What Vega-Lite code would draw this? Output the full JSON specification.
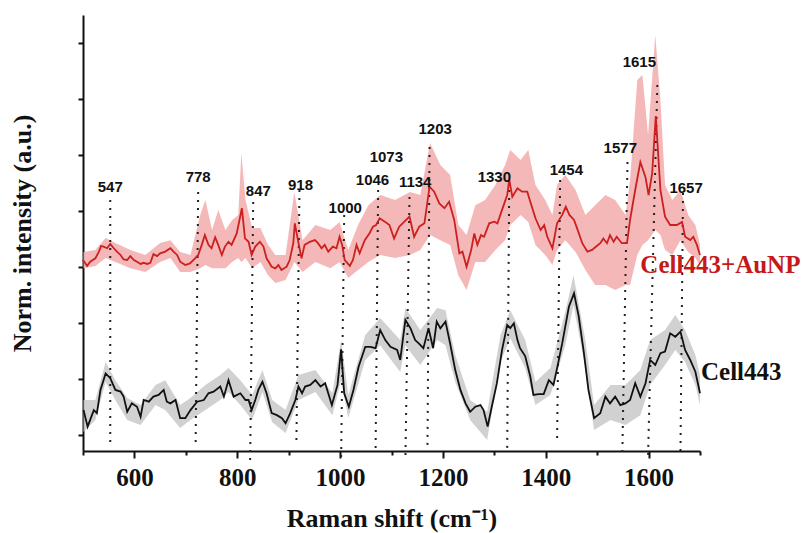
{
  "$schema": "https://vega.github.io/schema/vega-lite/v6.json",
  "width": 617,
  "height": 436,
  "autosize": {"type": "none"},
  "padding": {"left": 83, "top": 15, "right": 109, "bottom": 82},
  "background": "white",
  "config": {
    "view": {"stroke": null},
    "axis": {"grid": false}
  },
  "datasets": {
    "redLine": [
      {"shift":500,"intensity":6.25},{"shift":508,"intensity":6.04},{"shift":514,"intensity":6.19},{"shift":524,"intensity":6.31},{"shift":531,"intensity":6.55},{"shift":535,"intensity":6.75},{"shift":540,"intensity":6.73},{"shift":547,"intensity":6.67},{"shift":553,"intensity":6.82},{"shift":560,"intensity":6.67},{"shift":566,"intensity":6.55},{"shift":573,"intensity":6.43},{"shift":579,"intensity":6.27},{"shift":586,"intensity":6.25},{"shift":592,"intensity":6.39},{"shift":599,"intensity":6.25},{"shift":605,"intensity":6.19},{"shift":612,"intensity":6.11},{"shift":618,"intensity":6.15},{"shift":625,"intensity":6.11},{"shift":631,"intensity":6.15},{"shift":637,"intensity":6.46},{"shift":644,"intensity":6.39},{"shift":650,"intensity":6.49},{"shift":660,"intensity":6.55},{"shift":670,"intensity":6.67},{"shift":676,"intensity":6.55},{"shift":683,"intensity":6.43},{"shift":689,"intensity":6.19},{"shift":699,"intensity":6.07},{"shift":708,"intensity":6.13},{"shift":718,"intensity":6.31},{"shift":724,"intensity":6.43},{"shift":731,"intensity":6.79},{"shift":737,"intensity":7.14},{"shift":744,"intensity":6.79},{"shift":750,"intensity":6.67},{"shift":757,"intensity":7.06},{"shift":763,"intensity":6.79},{"shift":770,"intensity":6.43},{"shift":776,"intensity":6.73},{"shift":783,"intensity":6.9},{"shift":789,"intensity":6.79},{"shift":799,"intensity":7.2},{"shift":809,"intensity":8.1},{"shift":815,"intensity":7.02},{"shift":822,"intensity":6.9},{"shift":828,"intensity":6.43},{"shift":835,"intensity":6.73},{"shift":844,"intensity":6.9},{"shift":851,"intensity":6.73},{"shift":857,"intensity":6.31},{"shift":867,"intensity":6.01},{"shift":874,"intensity":5.95},{"shift":880,"intensity":6.07},{"shift":886,"intensity":5.89},{"shift":896,"intensity":6.01},{"shift":902,"intensity":6.25},{"shift":909,"intensity":6.85},{"shift":912,"intensity":7.56},{"shift":918,"intensity":6.96},{"shift":925,"intensity":6.31},{"shift":931,"intensity":6.79},{"shift":941,"intensity":6.9},{"shift":951,"intensity":6.96},{"shift":957,"intensity":6.85},{"shift":964,"intensity":6.67},{"shift":970,"intensity":6.79},{"shift":977,"intensity":6.55},{"shift":986,"intensity":6.73},{"shift":993,"intensity":6.67},{"shift":999,"intensity":7.08},{"shift":1004,"intensity":6.79},{"shift":1009,"intensity":6.25},{"shift":1019,"intensity":6.04},{"shift":1025,"intensity":6.25},{"shift":1032,"intensity":6.79},{"shift":1038,"intensity":6.49},{"shift":1048,"intensity":6.96},{"shift":1057,"intensity":7.2},{"shift":1064,"intensity":7.44},{"shift":1070,"intensity":7.5},{"shift":1077,"intensity":7.74},{"shift":1087,"intensity":7.62},{"shift":1096,"intensity":7.5},{"shift":1105,"intensity":7.02},{"shift":1115,"intensity":7.44},{"shift":1125,"intensity":7.62},{"shift":1135,"intensity":7.8},{"shift":1144,"intensity":7.08},{"shift":1154,"intensity":7.44},{"shift":1164,"intensity":7.56},{"shift":1174,"intensity":8.87},{"shift":1183,"intensity":8.69},{"shift":1193,"intensity":8.27},{"shift":1203,"intensity":8.1},{"shift":1212,"intensity":8.33},{"shift":1222,"intensity":7.68},{"shift":1232,"intensity":6.49},{"shift":1238,"intensity":6.55},{"shift":1246,"intensity":6.01},{"shift":1255,"intensity":6.61},{"shift":1261,"intensity":7.2},{"shift":1267,"intensity":6.79},{"shift":1274,"intensity":7.14},{"shift":1280,"intensity":7.08},{"shift":1290,"intensity":7.56},{"shift":1300,"intensity":7.62},{"shift":1306,"intensity":7.56},{"shift":1315,"intensity":8.04},{"shift":1325,"intensity":8.57},{"shift":1329,"intensity":9.11},{"shift":1335,"intensity":8.51},{"shift":1345,"intensity":8.81},{"shift":1354,"intensity":8.69},{"shift":1364,"intensity":8.69},{"shift":1371,"intensity":8.27},{"shift":1380,"intensity":7.74},{"shift":1390,"intensity":7.32},{"shift":1397,"intensity":7.5},{"shift":1403,"intensity":7.08},{"shift":1413,"intensity":6.67},{"shift":1422,"intensity":7.56},{"shift":1432,"intensity":7.86},{"shift":1439,"intensity":8.15},{"shift":1446,"intensity":7.86},{"shift":1455,"intensity":7.68},{"shift":1461,"intensity":7.38},{"shift":1471,"intensity":6.85},{"shift":1481,"intensity":6.55},{"shift":1490,"intensity":6.61},{"shift":1498,"intensity":6.73},{"shift":1506,"intensity":6.85},{"shift":1512,"intensity":7.02},{"shift":1519,"intensity":6.85},{"shift":1525,"intensity":7.14},{"shift":1532,"intensity":6.9},{"shift":1538,"intensity":7.08},{"shift":1548,"intensity":6.85},{"shift":1558,"intensity":6.85},{"shift":1564,"intensity":7.68},{"shift":1574,"intensity":8.75},{"shift":1584,"intensity":9.75},{"shift":1594,"intensity":9.21},{"shift":1600,"intensity":8.57},{"shift":1607,"intensity":9.35},{"shift":1614,"intensity":11.39},{"shift":1623,"intensity":8.75},{"shift":1632,"intensity":7.8},{"shift":1642,"intensity":7.5},{"shift":1655,"intensity":7.5},{"shift":1665,"intensity":7.61},{"shift":1671,"intensity":7.08},{"shift":1681,"intensity":6.96},{"shift":1687,"intensity":7.08},{"shift":1694,"intensity":6.79},{"shift":1700,"intensity":6.43}
    ],
    "blackLine": [
      {"shift":501,"intensity":0.89},{"shift":509,"intensity":0.3},{"shift":521,"intensity":0.89},{"shift":527,"intensity":0.78},{"shift":534,"intensity":1.61},{"shift":544,"intensity":2.2},{"shift":553,"intensity":2.03},{"shift":563,"intensity":1.61},{"shift":573,"intensity":1.55},{"shift":579,"intensity":1.37},{"shift":586,"intensity":0.83},{"shift":595,"intensity":1.13},{"shift":605,"intensity":1.01},{"shift":612,"intensity":0.65},{"shift":618,"intensity":1.25},{"shift":628,"intensity":1.19},{"shift":637,"intensity":1.37},{"shift":647,"intensity":1.43},{"shift":657,"intensity":1.61},{"shift":663,"intensity":1.19},{"shift":670,"intensity":1.13},{"shift":680,"intensity":1.25},{"shift":689,"intensity":0.6},{"shift":699,"intensity":0.6},{"shift":709,"intensity":0.89},{"shift":722,"intensity":1.19},{"shift":735,"intensity":1.25},{"shift":744,"intensity":1.49},{"shift":754,"intensity":1.55},{"shift":767,"intensity":1.73},{"shift":774,"intensity":1.37},{"shift":783,"intensity":1.96},{"shift":793,"intensity":1.37},{"shift":806,"intensity":1.49},{"shift":816,"intensity":1.25},{"shift":822,"intensity":1.25},{"shift":828,"intensity":0.89},{"shift":835,"intensity":1.25},{"shift":841,"intensity":1.61},{"shift":849,"intensity":1.9},{"shift":857,"intensity":1.49},{"shift":867,"intensity":0.78},{"shift":877,"intensity":0.71},{"shift":887,"intensity":0.6},{"shift":894,"intensity":0.42},{"shift":903,"intensity":0.78},{"shift":913,"intensity":1.25},{"shift":919,"intensity":1.73},{"shift":926,"intensity":1.49},{"shift":932,"intensity":1.73},{"shift":942,"intensity":1.79},{"shift":952,"intensity":1.96},{"shift":962,"intensity":1.73},{"shift":971,"intensity":1.85},{"shift":984,"intensity":1.07},{"shift":995,"intensity":1.79},{"shift":1002,"intensity":3.06},{"shift":1008,"intensity":1.49},{"shift":1017,"intensity":1.01},{"shift":1026,"intensity":1.61},{"shift":1036,"intensity":2.44},{"shift":1049,"intensity":3.15},{"shift":1059,"intensity":3.15},{"shift":1069,"intensity":3.1},{"shift":1078,"intensity":3.75},{"shift":1088,"intensity":3.39},{"shift":1098,"intensity":3.15},{"shift":1111,"intensity":3.04},{"shift":1117,"intensity":2.68},{"shift":1127,"intensity":4.11},{"shift":1137,"intensity":3.81},{"shift":1146,"intensity":3.39},{"shift":1153,"intensity":3.27},{"shift":1162,"intensity":3.1},{"shift":1172,"intensity":3.81},{"shift":1181,"intensity":3.1},{"shift":1188,"intensity":4.05},{"shift":1195,"intensity":3.81},{"shift":1205,"intensity":4.05},{"shift":1214,"intensity":3.27},{"shift":1224,"intensity":2.32},{"shift":1234,"intensity":1.61},{"shift":1244,"intensity":1.13},{"shift":1253,"intensity":0.83},{"shift":1263,"intensity":1.01},{"shift":1273,"intensity":1.07},{"shift":1279,"intensity":0.89},{"shift":1287,"intensity":0.3},{"shift":1295,"intensity":1.01},{"shift":1305,"intensity":1.85},{"shift":1315,"intensity":3.04},{"shift":1325,"intensity":3.93},{"shift":1331,"intensity":3.82},{"shift":1338,"intensity":3.99},{"shift":1345,"intensity":3.39},{"shift":1350,"intensity":3.1},{"shift":1360,"intensity":2.82},{"shift":1370,"intensity":2.08},{"shift":1376,"intensity":1.43},{"shift":1386,"intensity":1.46},{"shift":1396,"intensity":1.46},{"shift":1406,"intensity":1.96},{"shift":1415,"intensity":1.79},{"shift":1422,"intensity":2.38},{"shift":1432,"intensity":3.27},{"shift":1445,"intensity":4.58},{"shift":1455,"intensity":5.06},{"shift":1464,"intensity":4.25},{"shift":1474,"intensity":2.96},{"shift":1483,"intensity":1.61},{"shift":1494,"intensity":0.6},{"shift":1506,"intensity":0.78},{"shift":1516,"intensity":1.37},{"shift":1525,"intensity":1.13},{"shift":1535,"intensity":1.37},{"shift":1545,"intensity":1.07},{"shift":1555,"intensity":1.13},{"shift":1564,"intensity":1.25},{"shift":1574,"intensity":1.85},{"shift":1584,"intensity":1.37},{"shift":1594,"intensity":1.85},{"shift":1603,"intensity":2.68},{"shift":1613,"intensity":2.5},{"shift":1623,"intensity":2.92},{"shift":1632,"intensity":2.98},{"shift":1642,"intensity":3.63},{"shift":1652,"intensity":3.51},{"shift":1662,"intensity":3.69},{"shift":1671,"intensity":3.04},{"shift":1681,"intensity":2.68},{"shift":1691,"intensity":2.26},{"shift":1700,"intensity":1.49}
    ],
    "redBand": [
      {"shift":501,"hi":6.54,"lo":5.96},{"shift":524,"hi":6.61,"lo":6.04},{"shift":544,"hi":7.04,"lo":6.32},{"shift":563,"hi":6.86,"lo":6.18},{"shift":592,"hi":6.61,"lo":5.96},{"shift":621,"hi":6.43,"lo":5.82},{"shift":650,"hi":6.86,"lo":6.18},{"shift":670,"hi":6.96,"lo":6.32},{"shift":689,"hi":6.54,"lo":5.82},{"shift":709,"hi":6.43,"lo":5.82},{"shift":728,"hi":7.86,"lo":5.96},{"shift":738,"hi":8.39,"lo":6.07},{"shift":751,"hi":7.32,"lo":5.96},{"shift":763,"hi":8.04,"lo":5.96},{"shift":777,"hi":7.32,"lo":5.96},{"shift":790,"hi":7.68,"lo":6.18},{"shift":802,"hi":7.86,"lo":6.32},{"shift":808,"hi":10.07,"lo":6.18},{"shift":816,"hi":8.39,"lo":6.32},{"shift":829,"hi":7.39,"lo":5.96},{"shift":845,"hi":7.39,"lo":6.18},{"shift":860,"hi":6.79,"lo":5.71},{"shift":874,"hi":6.43,"lo":5.43},{"shift":894,"hi":6.43,"lo":5.54},{"shift":911,"hi":8.68,"lo":6.18},{"shift":927,"hi":6.96,"lo":5.82},{"shift":952,"hi":7.5,"lo":6.18},{"shift":981,"hi":7.32,"lo":5.96},{"shift":999,"hi":7.61,"lo":6.18},{"shift":1016,"hi":6.61,"lo":5.61},{"shift":1035,"hi":7.5,"lo":5.89},{"shift":1055,"hi":8.21,"lo":6.18},{"shift":1078,"hi":8.57,"lo":6.43},{"shift":1107,"hi":8.39,"lo":6.32},{"shift":1136,"hi":8.68,"lo":6.43},{"shift":1156,"hi":8.57,"lo":6.61},{"shift":1175,"hi":10.43,"lo":7.14},{"shift":1195,"hi":9.64,"lo":6.96},{"shift":1214,"hi":9.29,"lo":6.79},{"shift":1230,"hi":7.5,"lo":5.71},{"shift":1246,"hi":7.14,"lo":5.18},{"shift":1263,"hi":8.21,"lo":6.18},{"shift":1282,"hi":8.39,"lo":6.18},{"shift":1302,"hi":8.93,"lo":6.61},{"shift":1321,"hi":9.64,"lo":6.96},{"shift":1331,"hi":10.18,"lo":7.5},{"shift":1351,"hi":9.82,"lo":7.86},{"shift":1366,"hi":10.18,"lo":7.61},{"shift":1380,"hi":8.93,"lo":6.79},{"shift":1399,"hi":8.39,"lo":6.43},{"shift":1413,"hi":7.86,"lo":6.07},{"shift":1422,"hi":8.93,"lo":6.61},{"shift":1438,"hi":9.29,"lo":6.96},{"shift":1458,"hi":8.75,"lo":6.54},{"shift":1477,"hi":7.86,"lo":5.89},{"shift":1496,"hi":8.21,"lo":5.36},{"shift":1516,"hi":8.57,"lo":5.36},{"shift":1535,"hi":8.39,"lo":5.18},{"shift":1555,"hi":7.86,"lo":5.36},{"shift":1564,"hi":9.11,"lo":5.36},{"shift":1578,"hi":12.68,"lo":6.43},{"shift":1588,"hi":12.86,"lo":6.79},{"shift":1599,"hi":10.71,"lo":6.96},{"shift":1613,"hi":14.29,"lo":7.32},{"shift":1623,"hi":11.96,"lo":7.14},{"shift":1632,"hi":8.93,"lo":6.61},{"shift":1646,"hi":8.39,"lo":6.43},{"shift":1662,"hi":8.75,"lo":6.96},{"shift":1677,"hi":7.86,"lo":6.54},{"shift":1691,"hi":7.5,"lo":6.32},{"shift":1700,"hi":6.79,"lo":6.07}
    ],
    "blackBand": [
      {"shift":501,"hi":1.25,"lo":0.11},{"shift":524,"hi":1.25,"lo":0.54},{"shift":544,"hi":2.61,"lo":1.89},{"shift":563,"hi":1.96,"lo":1.25},{"shift":586,"hi":1.32,"lo":0.54},{"shift":612,"hi":1.07,"lo":0.36},{"shift":641,"hi":1.79,"lo":1.07},{"shift":660,"hi":1.96,"lo":0.89},{"shift":689,"hi":1.07,"lo":0.25},{"shift":709,"hi":1.32,"lo":0.54},{"shift":738,"hi":1.79,"lo":0.89},{"shift":767,"hi":2.14,"lo":1.25},{"shift":783,"hi":2.39,"lo":1.54},{"shift":806,"hi":1.96,"lo":1.07},{"shift":829,"hi":1.43,"lo":0.54},{"shift":849,"hi":2.32,"lo":1.54},{"shift":868,"hi":1.25,"lo":0.46},{"shift":894,"hi":0.89,"lo":0.07},{"shift":919,"hi":2.14,"lo":1.25},{"shift":952,"hi":2.32,"lo":1.54},{"shift":985,"hi":1.5,"lo":0.71},{"shift":1002,"hi":3.39,"lo":1.96},{"shift":1016,"hi":1.43,"lo":0.61},{"shift":1049,"hi":3.57,"lo":2.68},{"shift":1078,"hi":4.18,"lo":3.21},{"shift":1117,"hi":3.39,"lo":2.25},{"shift":1127,"hi":4.54,"lo":3.21},{"shift":1156,"hi":3.75,"lo":2.5},{"shift":1189,"hi":4.54,"lo":3.39},{"shift":1205,"hi":4.46,"lo":3.21},{"shift":1224,"hi":2.86,"lo":1.89},{"shift":1253,"hi":1.25,"lo":0.54},{"shift":1286,"hi":0.82,"lo":-0.18},{"shift":1312,"hi":3.57,"lo":2.61},{"shift":1331,"hi":4.46,"lo":3.46},{"shift":1360,"hi":3.39,"lo":2.39},{"shift":1380,"hi":1.89,"lo":1.07},{"shift":1409,"hi":2.39,"lo":1.43},{"shift":1438,"hi":4.39,"lo":3.21},{"shift":1454,"hi":5.71,"lo":4.64},{"shift":1477,"hi":3.39,"lo":2.39},{"shift":1494,"hi":1.07,"lo":0.18},{"shift":1526,"hi":1.79,"lo":0.54},{"shift":1555,"hi":1.79,"lo":0.36},{"shift":1584,"hi":2.32,"lo":0.71},{"shift":1603,"hi":3.39,"lo":1.79},{"shift":1632,"hi":3.75,"lo":2.5},{"shift":1652,"hi":4.29,"lo":3.04},{"shift":1671,"hi":3.75,"lo":2.61},{"shift":1691,"hi":2.86,"lo":1.79},{"shift":1700,"hi":2.14,"lo":1.07}
    ],
    "markers": [
      {"peak":"547","shift":553,"shift2":553,"top":8.39,"bottom":-0.25},
      {"peak":"778","shift":724,"shift2":719,"top":8.68,"bottom":-0.36},
      {"peak":"847","shift":831,"shift2":825,"top":8.32,"bottom":-1.0},
      {"peak":"918","shift":921,"shift2":915,"top":8.75,"bottom":-0.29},
      {"peak":"1000","shift":1008,"shift2":1002,"top":7.86,"bottom":-0.82},
      {"peak":"1046","shift":1074,"shift2":1069,"top":8.75,"bottom":-0.61},
      {"peak":"1134","shift":1135,"shift2":1127,"top":8.5,"bottom":-0.89},
      {"peak":"1203","shift":1174,"shift2":1170,"top":10.29,"bottom":-0.36},
      {"peak":"1330","shift":1329,"shift2":1325,"top":9.04,"bottom":-0.46},
      {"peak":"1454","shift":1428,"shift2":1422,"top":9.11,"bottom":-0.25},
      {"peak":"1577","shift":1559,"shift2":1549,"top":9.75,"bottom":-0.61},
      {"peak":"1615","shift":1617,"shift2":1599,"top":12.5,"bottom":-0.71},
      {"peak":"1657","shift":1667,"shift2":1662,"top":8.64,"bottom":-0.64}
    ],
    "peakLabels": [
      {"label":"547","shift":553,"intensity":8.86},
      {"label":"778","shift":724,"intensity":9.21},
      {"label":"847","shift":841,"intensity":8.71},
      {"label":"918","shift":923,"intensity":8.93},
      {"label":"1000","shift":1010,"intensity":8.11},
      {"label":"1046","shift":1063,"intensity":9.11},
      {"label":"1073","shift":1090,"intensity":9.93},
      {"label":"1134","shift":1146,"intensity":9.04},
      {"label":"1203","shift":1185,"intensity":10.93},
      {"label":"1330","shift":1300,"intensity":9.21},
      {"label":"1454","shift":1440,"intensity":9.46},
      {"label":"1577","shift":1545,"intensity":10.25},
      {"label":"1615","shift":1582,"intensity":13.32},
      {"label":"1657","shift":1673,"intensity":8.82}
    ],
    "seriesLabels": [
      {"label":"Cell443+AuNP","shift":1584,"intensity":6.07,"series":"red"},
      {"label":"Cell443","shift":1702,"intensity":2.25,"series":"black"}
    ]
  },
  "layer": [
    {
      "data": {"name": "redBand"},
      "mark": {"type": "area", "color": "#f3b0b0", "opacity": 0.9},
      "encoding": {
        "x": {"field": "shift", "type": "quantitative", "scale": {"domain": [500, 1700], "nice": false, "zero": false},
          "axis": {
            "values": [500,600,700,800,900,1000,1100,1200,1300,1400,1500,1600,1700],
            "labelExpr": "datum.value % 200 === 0 ? datum.label : ''",
            "format": "d",
            "tickSize": {"condition": {"test": "datum.value % 200 === 0", "value": 7}, "value": 4},
            "tickWidth": 2, "tickColor": "#111",
            "domainWidth": 2, "domainColor": "#111",
            "labelFont": "Liberation Serif", "labelFontWeight": "bold", "labelFontSize": 25, "labelColor": "#111",
            "labelPadding": 7, "labelFlush": false, "labelOverlap": false,
            "title": "Raman shift (cm⁻¹)",
            "titleFont": "Liberation Serif", "titleFontWeight": "bold", "titleFontSize": 26, "titleColor": "#111",
            "titlePadding": 15
          },
          "title": "Raman shift (cm⁻¹)"
        },
        "y": {"field": "hi", "type": "quantitative", "scale": {"domain": [-0.571, 15], "nice": false, "zero": false},
          "axis": {
            "values": [0,1,2,3,4,5,6,7,8,9,10,11,12,13,14,15],
            "labels": false,
            "tickSize": {"condition": {"test": "datum.value % 2 === 1", "value": 9}, "value": 5},
            "tickWidth": 2, "tickColor": "#111",
            "domainWidth": 2, "domainColor": "#111",
            "title": "Norm. intensity (a.u.)",
            "titleFont": "Liberation Serif", "titleFontWeight": "bold", "titleFontSize": 26, "titleColor": "#111",
            "titlePadding": 42
          },
          "title": "Norm. intensity (a.u.)"
        },
        "y2": {"field": "lo"}
      }
    },
    {
      "data": {"name": "blackBand"},
      "mark": {"type": "area", "color": "#c9c9c9", "opacity": 0.85},
      "encoding": {
        "x": {"field": "shift", "type": "quantitative", "title": "Raman shift (cm⁻¹)"},
        "y": {"field": "hi", "type": "quantitative", "title": "Norm. intensity (a.u.)"},
        "y2": {"field": "lo"}
      }
    },
    {
      "data": {"name": "markers"},
      "mark": {"type": "rule", "color": "#222", "strokeWidth": 2, "strokeDash": [2, 6], "clip": false},
      "encoding": {
        "x": {"field": "shift", "type": "quantitative", "title": "Raman shift (cm⁻¹)"},
        "x2": {"field": "shift2"},
        "y": {"field": "top", "type": "quantitative", "title": "Norm. intensity (a.u.)"},
        "y2": {"field": "bottom"}
      }
    },
    {
      "data": {"name": "redLine"},
      "mark": {"type": "line", "color": "#cc1f1f", "strokeWidth": 1.8},
      "encoding": {
        "x": {"field": "shift", "type": "quantitative", "title": "Raman shift (cm⁻¹)"},
        "y": {"field": "intensity", "type": "quantitative", "title": "Norm. intensity (a.u.)"}
      }
    },
    {
      "data": {"name": "blackLine"},
      "mark": {"type": "line", "color": "#111111", "strokeWidth": 1.8},
      "encoding": {
        "x": {"field": "shift", "type": "quantitative", "title": "Raman shift (cm⁻¹)"},
        "y": {"field": "intensity", "type": "quantitative", "title": "Norm. intensity (a.u.)"}
      }
    },
    {
      "data": {"name": "peakLabels"},
      "mark": {"type": "text", "font": "Liberation Sans", "fontWeight": "bold", "fontSize": 15, "color": "#111", "align": "center", "baseline": "middle"},
      "encoding": {
        "x": {"field": "shift", "type": "quantitative", "title": "Raman shift (cm⁻¹)"},
        "y": {"field": "intensity", "type": "quantitative", "title": "Norm. intensity (a.u.)"},
        "text": {"field": "label"}
      }
    },
    {
      "data": {"name": "seriesLabels"},
      "mark": {"type": "text", "font": "Liberation Serif", "fontWeight": "bold", "fontSize": 25, "align": "left", "baseline": "middle", "clip": false},
      "encoding": {
        "x": {"field": "shift", "type": "quantitative", "title": "Raman shift (cm⁻¹)"},
        "y": {"field": "intensity", "type": "quantitative", "title": "Norm. intensity (a.u.)"},
        "text": {"field": "label"},
        "color": {"field": "series", "type": "nominal", "scale": {"domain": ["red", "black"], "range": ["#c41a1a", "#111111"]}, "legend": null}
      }
    }
  ]
}
